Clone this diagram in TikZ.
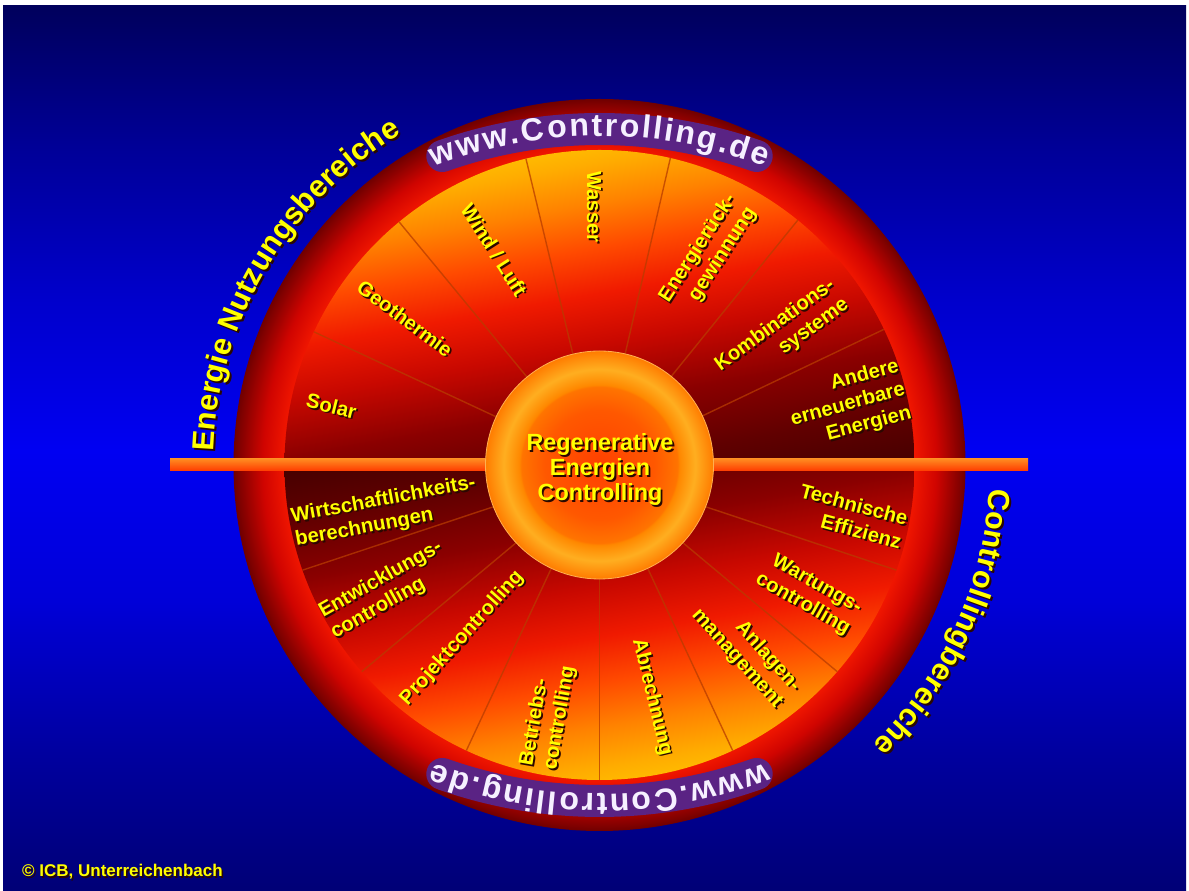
\documentclass[tikz,border=0pt]{standalone}
\usepackage{fontspec}
\setmainfont{Liberation Sans}
\usetikzlibrary{calc,decorations.text}

\definecolor{bgA}{HTML}{00005C}
\definecolor{bgB}{HTML}{000098}
\definecolor{bgC}{HTML}{0000CC}
\definecolor{bgD}{HTML}{0000F2}
\definecolor{bgE}{HTML}{0000D8}
\definecolor{bgF}{HTML}{0000A0}
\definecolor{bgG}{HTML}{000076}
\definecolor{wg0}{HTML}{420000}
\definecolor{wg1}{HTML}{600000}
\definecolor{wg2}{HTML}{8A0000}
\definecolor{wg3}{HTML}{C80800}
\definecolor{wg4}{HTML}{F01A00}
\definecolor{wg5}{HTML}{FF4A00}
\definecolor{wg6}{HTML}{FF8200}
\definecolor{wg7}{HTML}{FFAC00}
\definecolor{wg8}{HTML}{FFB800}
\definecolor{rgIn}{HTML}{F01600}
\definecolor{rgMid}{HTML}{D00400}
\definecolor{rgOut}{HTML}{700000}
\definecolor{hbC}{HTML}{FF4000}
\definecolor{hbM}{HTML}{FF5800}
\definecolor{hbE}{HTML}{FF7400}
\definecolor{hbR1}{HTML}{FF8800}
\definecolor{hbR2}{HTML}{FFAE20}
\definecolor{hbR3}{HTML}{FF7C00}
\definecolor{labyellow}{HTML}{FFFF00}
\definecolor{shadowc}{HTML}{2A0800}
\definecolor{wwwpurple}{HTML}{5A2384}
\definecolor{wwwwhite}{HTML}{F6F0FF}
\definecolor{divider}{HTML}{B83C00}
\definecolor{barTop}{HTML}{FF8A20}
\definecolor{barMid}{HTML}{FF6200}
\definecolor{barBot}{HTML}{FF3A00}
\definecolor{hubline}{HTML}{FFB050}

\pgfdeclareverticalshading{bgshade}{100bp}{color(0bp)=(bgG); color(25bp)=(bgG); color(33bp)=(bgF); color(41.4bp)=(bgE); color(49.9bp)=(bgD); color(58.4bp)=(bgC); color(66.9bp)=(bgB); color(75bp)=(bgA); color(100bp)=(bgA)}
\pgfdeclareverticalshading{wheelgrad}{100bp}{color(0bp)=(wg0); color(45.2bp)=(wg0); color(50bp)=(wg1); color(54.8bp)=(wg2); color(59.5bp)=(wg3); color(63.5bp)=(wg4); color(67.1bp)=(wg5); color(70.6bp)=(wg6); color(73.8bp)=(wg7); color(75bp)=(wg8); color(100bp)=(wg8)}
\pgfdeclareradialshading{ringshade}{\pgfpoint{0bp}{0bp}}{color(0bp)=(rgIn); color(21.5bp)=(rgIn); color(23bp)=(rgMid); color(25bp)=(rgOut); color(50bp)=(rgOut)}
\pgfdeclareradialshading{hubshade}{\pgfpoint{0bp}{0bp}}{color(0bp)=(hbC); color(12bp)=(hbM); color(17.1bp)=(hbE); color(17.6bp)=(hbR1); color(21bp)=(hbR2); color(25bp)=(hbR3); color(50bp)=(hbR3)}

\newcommand{\outerfont}{\fontsize{30.5}{30.5}\selectfont\bfseries}
% character / centre of character in em (Arial bold metrics)
\newcommand{\wwwlist}{w/0.389, w/1.167, w/1.945, ./2.473, C/2.973, o/3.6395, n/4.2505, t/4.7225, r/5.0835, o/5.5835, l/6.028, l/6.306, i/6.584, n/7.0285, g/7.6395, ./8.084, d/8.5285, e/9.112}

\newcommand{\seglabel}[5]{%
  \node[seglab, align=#4, rotate=#3, text=shadowc] (#1s) at ($(#2)+(1.7,-1.7)$) {#5};
  \node[seglab, align=#4, rotate=#3] (#1) at (#2) {#5};
}

\newcommand{\wwwtext}[1]{%
  \begin{scope}[shift={(0,-135)}]
    \draw[wwwband] (109.5:471) arc[start angle=109.5, end angle=70.5, radius=471];
    \foreach \c/\w [count=\i from 0] in \wwwlist {
      \pgfmathsetmacro\a{90-((32*\w+2.29*\i)-169.7)/464*57.29578}
      \node[wwwchar, rotate=\a-90] (#1\i) at (\a:464) {\c};
    }
  \end{scope}
}

\begin{document}
\begin{tikzpicture}[x=1pt,y=1pt,
  seglab/.style={font=\fontsize{20.3}{24}\selectfont\bfseries, text=labyellow, inner sep=0pt},
  ctrlab/.style={font=\fontsize{23.4}{25}\selectfont\bfseries, text=labyellow, inner sep=0pt, align=center},
  wwwchar/.style={font=\fontsize{32}{32}\selectfont\bfseries, text=wwwwhite, anchor=base, inner sep=0pt},
  wwwband/.style={draw=wwwpurple, line width=32pt, line cap=round},
  divline/.style={draw=divider, line width=1.4pt, opacity=0.75},
  copyfont/.style={font=\fontsize{17}{17}\selectfont\bfseries, anchor=base west, inner sep=0pt},
]
\useasboundingbox (0,0) rectangle (1189,891);
\fill[white] (0,0) rectangle (1189,891);
\shade[shading=bgshade] (3,0) rectangle (1186,885);

\begin{scope}[shift={(599.5,426)}]
  % outer ring
  \shade[shading=ringshade] (0,0) circle[radius=366];
  % upper segments
  \begin{scope}
    \clip (315,0) arc[start angle=0, end angle=180, radius=315] -- cycle;
    \shade[shading=wheelgrad, shading angle=10] (-315,-315) rectangle (315,315);
  \end{scope}
  % lower segments
  \begin{scope}
    \clip (-315,0) arc[start angle=180, end angle=360, radius=315] -- cycle;
    \shade[shading=wheelgrad, shading angle=190] (-315,-315) rectangle (315,315);
  \end{scope}
  % dividers
  \foreach \a/\b in {155/155, 129.5/129.5, 103.5/103.5, 77/77, 51/51, 25.5/25.5,
                     201.5/199.5, 223/221, 245/245, 270/270, 295/295, 317/319, 338.5/340.5}
    \draw[divline] (\a:114) -- (\b:315);
  % horizontal bar
  \shade[top color=barTop, middle color=barMid, bottom color=barBot] (-429.5,-6) rectangle (428.5,6);
  % hub
  \shade[shading=hubshade] (0,0) circle[radius=114];
  \draw[hubline, line width=0.8pt] (0,0) circle[radius=114];

  % centre text
  \node[ctrlab, text=shadowc] (centres) at (2.3,-6.3) {Regenerative\\Energien\\Controlling};
  \node[ctrlab] (centre) at (0.5,-4.5) {Regenerative\\Energien\\Controlling};

  % segment labels
  \seglabel{lSol}{-268,59}{-14}{center}{Solar}
  \seglabel{lGeo}{-194.5,146.5}{-36.5}{center}{Geothermie}
  \seglabel{lWind}{-105.5,215}{-57.5}{center}{Wind / Luft}
  \seglabel{lWas}{-5.5,258}{-90}{center}{Wasser}
  \seglabel{lErg}{108.5,210}{57}{right}{Energierück-\\gewinnung}
  \seglabel{lKom}{182.5,130}{36}{right}{Kombinations-\\systeme}
  \seglabel{lAnd}{248.5,60}{15}{right}{Andere\\erneuerbare\\Energien}
  \seglabel{lWir}{-214,-47}{10.5}{left}{Wirtschaftlichkeits-\\berechnungen}
  \seglabel{lEnt}{-213,-125}{29.5}{left}{Entwicklungs-\\controlling}
  \seglabel{lPro}{-137.5,-173}{48}{center}{Projektcontrolling}
  \seglabel{lBet}{-51.5,-251}{80}{left}{Betriebs-\\controlling}
  \seglabel{lAbr}{52.5,-232}{-76.5}{center}{Abrechnung}
  \seglabel{lAnl}{146.5,-185.5}{-48}{right}{Anlagen-\\management}
  \seglabel{lWar}{209,-129}{-29.5}{right}{Wartungs-\\controlling}
  \seglabel{lTec}{251.5,-51}{-15}{right}{Technische\\Effizienz}

  % www.Controlling.de top and bottom
  \wwwtext{wT}
  \begin{scope}[rotate=180, transform shape]
    \wwwtext{wB}
  \end{scope}

  % outer curved labels
  \begin{scope}[shift={(2,-2)}]
    \path[decorate, decoration={text along path, text={|\outerfont\color{shadowc}|Energie Nutzungsbereiche}}]
      (178:386) arc[start angle=178, end angle=100, radius=386];
    \path[decorate, decoration={text along path, text={|\outerfont\color{shadowc}|Controllingbereiche}}]
      (-3.4:391) arc[start angle=-3.4, end angle=-70, radius=391];
  \end{scope}
  \path[decorate, decoration={text along path, text={|\outerfont\color{labyellow}|Energie Nutzungsbereiche}}]
    (178:386) arc[start angle=178, end angle=100, radius=386];
  \path[decorate, decoration={text along path, text={|\outerfont\color{labyellow}|Controllingbereiche}}]
    (-3.4:391) arc[start angle=-3.4, end angle=-70, radius=391];
\end{scope}

% copyright
\node[copyfont, text=shadowc] (copys) at (23.5,12.5) {© ICB, Unterreichenbach};
\node[copyfont, text=labyellow] (copy) at (22,14) {© ICB, Unterreichenbach};
\end{tikzpicture}
\end{document}
